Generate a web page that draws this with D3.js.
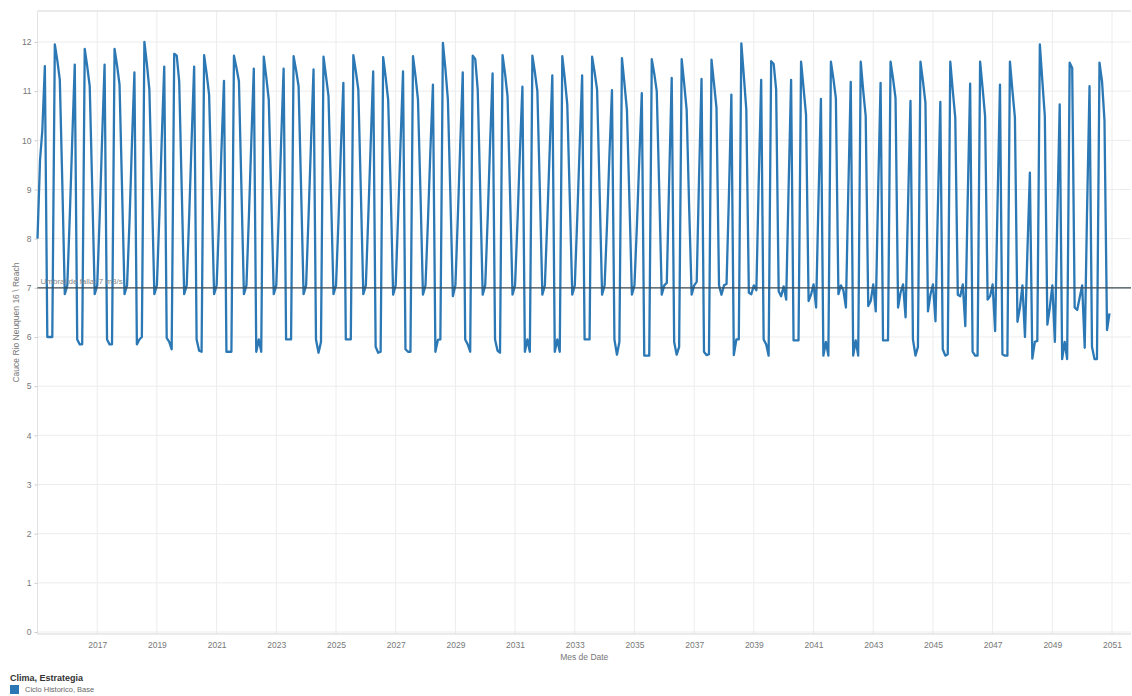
<!DOCTYPE html>
<html>
<head>
<meta charset="utf-8">
<script src="https://cdn.jsdelivr.net/npm/d3@7"></script>
<style>
  body { margin: 0; background: #fff; }
  svg { font-family: "Liberation Sans", Arial, sans-serif; }
</style>
</head>
<body>
<svg id="chart" width="1132" height="696"></svg>
<script>
// monthly flow, one row per year (Jan..Dec)
const years = [2015, 2016, 2017, 2018, 2019, 2020, 2021, 2022, 2023, 2024, 2025, 2026,
  2027, 2028, 2029, 2030, 2031, 2032, 2033, 2034, 2035, 2036, 2037, 2038,
  2039, 2040, 2041, 2042, 2043, 2044, 2045, 2046, 2047, 2048, 2049, 2050];

const flow = [
  [8.0, 9.6, 10.2, 11.51, 6.0, 6.0, 6.0, 11.95, 11.62, 11.23, 9.1, 6.87], // 2015
  [7.05, 8.5, 10.0, 11.54, 5.95, 5.85, 5.85, 11.86, 11.5, 11.1, 9.0, 6.87],
  [7.05, 8.5, 10.0, 11.54, 5.95, 5.85, 5.85, 11.86, 11.52, 11.13, 9.0, 6.87],
  [7.05, 8.4, 9.9, 11.38, 5.85, 5.95, 6.0, 12.0, 11.55, 11.03, 8.95, 6.87],
  [7.05, 8.5, 10.0, 11.5, 5.98, 5.9, 5.75, 11.76, 11.72, 11.2, 9.0, 6.87],
  [7.05, 8.5, 10.0, 11.5, 5.95, 5.72, 5.7, 11.73, 11.35, 10.93, 8.9, 6.87], // 2020
  [7.05, 8.4, 9.8, 11.21, 5.7, 5.7, 5.7, 11.72, 11.47, 11.2, 9.0, 6.87],
  [7.05, 8.5, 9.95, 11.46, 5.7, 5.95, 5.7, 11.7, 11.28, 10.83, 8.85, 6.87],
  [7.05, 8.5, 9.95, 11.46, 5.95, 5.95, 5.95, 11.71, 11.42, 11.1, 9.0, 6.87],
  [7.05, 8.5, 9.95, 11.44, 5.95, 5.68, 5.9, 11.7, 11.3, 10.9, 8.9, 6.87],
  [7.05, 8.4, 9.8, 11.17, 5.95, 5.95, 5.95, 11.73, 11.4, 11.03, 8.95, 6.87], // 2025
  [7.05, 8.5, 9.9, 11.4, 5.8, 5.68, 5.7, 11.69, 11.28, 10.83, 9.0, 6.86],
  [7.05, 8.5, 9.9, 11.4, 5.75, 5.7, 5.7, 11.71, 11.3, 10.83, 8.9, 6.86],
  [7.05, 8.4, 9.8, 11.13, 5.7, 5.94, 5.95, 11.98, 11.45, 10.83, 8.85, 6.83],
  [7.05, 8.5, 9.9, 11.38, 5.95, 5.85, 5.7, 11.72, 11.65, 11.03, 8.95, 6.86],
  [7.05, 8.45, 9.9, 11.36, 5.95, 5.72, 5.68, 11.73, 11.35, 10.9, 8.9, 6.86], // 2030
  [7.05, 8.4, 9.75, 11.09, 5.7, 5.95, 5.7, 11.72, 11.38, 11.0, 8.95, 6.86],
  [7.05, 8.45, 9.85, 11.32, 5.7, 5.95, 5.7, 11.71, 11.25, 10.73, 8.8, 6.86],
  [7.05, 8.45, 9.85, 11.32, 5.95, 5.95, 5.95, 11.7, 11.38, 11.03, 8.95, 6.86],
  [7.05, 8.35, 9.7, 11.02, 5.95, 5.64, 5.9, 11.67, 11.15, 10.62, 8.75, 6.86],
  [7.05, 8.3, 9.6, 10.96, 5.62, 5.62, 5.62, 11.65, 11.35, 11.0, 8.95, 6.86], // 2035
  [7.05, 7.1, 9.2, 11.27, 5.9, 5.64, 5.8, 11.65, 11.15, 10.62, 8.6, 6.86],
  [7.05, 7.12, 9.2, 11.25, 5.7, 5.63, 5.65, 11.64, 11.15, 10.66, 7.05, 6.86],
  [7.05, 7.08, 8.8, 10.93, 5.63, 5.95, 5.95, 11.97, 11.3, 10.62, 6.9, 6.87],
  [7.05, 6.95, 9.1, 11.23, 5.95, 5.85, 5.62, 11.61, 11.55, 11.03, 6.93, 6.83],
  [7.03, 6.76, 9.0, 11.23, 5.93, 5.93, 5.93, 11.6, 11.05, 10.52, 6.73, 6.86], // 2040
  [7.07, 6.6, 8.7, 10.84, 5.62, 5.9, 5.62, 11.6, 11.25, 10.86, 6.87, 7.05],
  [6.95, 6.6, 8.9, 11.19, 5.62, 5.93, 5.62, 11.6, 11.0, 10.49, 6.63, 6.73],
  [7.07, 6.52, 8.85, 11.17, 5.93, 5.93, 5.93, 11.6, 11.25, 10.86, 6.6, 6.9],
  [7.07, 6.4, 8.6, 10.8, 5.95, 5.62, 5.8, 11.6, 11.2, 10.76, 6.52, 6.86],
  [7.07, 6.32, 8.55, 10.78, 5.75, 5.62, 5.65, 11.6, 11.0, 10.46, 6.86, 6.83], // 2045
  [7.07, 6.22, 8.7, 11.15, 5.7, 5.62, 5.62, 11.6, 11.05, 10.49, 6.76, 6.83],
  [7.07, 6.12, 8.6, 11.13, 5.65, 5.62, 5.62, 11.6, 11.0, 10.46, 6.31, 6.6],
  [7.05, 6.0, 7.7, 9.34, 5.56, 5.9, 5.92, 11.95, 11.2, 10.49, 6.25, 6.6],
  [7.05, 5.9, 8.3, 10.73, 5.55, 5.9, 5.55, 11.58, 11.47, 6.6, 6.55, 6.8],
  [7.05, 5.78, 8.5, 11.1, 5.8, 5.55, 5.55, 11.58, 11.2, 10.4, 6.14, 6.48], // 2050
];

const yTicks = [0, 1, 2, 3, 4, 5, 6, 7, 8, 9, 10, 11, 12];
const xTickYears = [2017, 2019, 2021, 2023, 2025, 2027, 2029, 2031, 2033, 2035,
  2037, 2039, 2041, 2043, 2045, 2047, 2049, 2051];

const threshold = 7;
const thresholdLabel = 'Umbral de falla: 7 m3/s';
const yTitle = 'Cauce Rio Neuquen 16 \\ Reach';
const xTitle = 'Mes de Date';
const legendTitle = 'Clima, Estrategia';
const seriesName = 'Ciclo Historico, Base';

const lineColor = '#2b78b4';
const gridColor = '#ececec';
const textColor = '#777';

const plot = { left: 37.5, right: 1131, top: 11, bottom: 634 };

const svg = d3.select('#chart');

const points = years.flatMap((yr, i) => flow[i].map((v, m) => ({ date: new Date(yr, m, 1), value: v })));

const x = d3.scaleTime()
  .domain([new Date(2015, 0, 1), new Date(2051, 0, 1)])
  .range([plot.left, 1112]);

const y = d3.scaleLinear()
  .domain([0, 12.63])
  .range([632, plot.top]);

// horizontal grid
svg.append('g')
  .selectAll('line')
  .data(yTicks)
  .join('line')
  .attr('x1', plot.left)
  .attr('x2', plot.right)
  .attr('y1', d => y(d))
  .attr('y2', d => y(d))
  .attr('stroke', gridColor)
  .attr('stroke-width', 1);

// vertical grid
svg.append('g')
  .selectAll('line')
  .data(xTickYears)
  .join('line')
  .attr('x1', d => x(new Date(d, 0, 1)))
  .attr('x2', d => x(new Date(d, 0, 1)))
  .attr('y1', plot.top)
  .attr('y2', plot.bottom)
  .attr('stroke', gridColor)
  .attr('stroke-width', 1);

// frame
svg.append('line')
  .attr('x1', plot.left).attr('x2', plot.right)
  .attr('y1', plot.top).attr('y2', plot.top)
  .attr('stroke', '#d6d6d6');
svg.append('line')
  .attr('x1', plot.left).attr('x2', plot.right)
  .attr('y1', plot.bottom).attr('y2', plot.bottom)
  .attr('stroke', '#d6d6d6');
svg.append('line')
  .attr('x1', plot.left).attr('x2', plot.left)
  .attr('y1', plot.top).attr('y2', plot.bottom)
  .attr('stroke', '#e2e2e2');

// y axis
const yAxis = svg.append('g')
  .attr('transform', `translate(${plot.left},0)`)
  .call(d3.axisLeft(y).tickValues(yTicks).tickSize(3).tickPadding(3));
yAxis.select('.domain').remove();
yAxis.selectAll('line').attr('stroke', '#ccc');
yAxis.selectAll('text')
  .attr('fill', textColor)
  .style('font-size', '8.5px')
  .style('font-family', '"Liberation Sans", Arial, sans-serif');

// x axis
const xAxis = svg.append('g')
  .attr('transform', `translate(0,${plot.bottom})`)
  .call(d3.axisBottom(x)
    .tickValues(xTickYears.map(d => new Date(d, 0, 1)))
    .tickFormat(d3.timeFormat('%Y'))
    .tickSize(0)
    .tickPadding(8));
xAxis.select('.domain').remove();
xAxis.selectAll('text')
  .attr('fill', textColor)
  .style('font-size', '8.5px')
  .style('font-family', '"Liberation Sans", Arial, sans-serif');

svg.append('text')
  .attr('x', (plot.left + plot.right) / 2)
  .attr('y', 660)
  .attr('text-anchor', 'middle')
  .attr('fill', textColor)
  .style('font-size', '8.5px')
  .text(xTitle);

svg.append('text')
  .attr('transform', `translate(19,${(plot.top + plot.bottom) / 2}) rotate(-90)`)
  .attr('text-anchor', 'middle')
  .attr('fill', textColor)
  .style('font-size', '8.5px')
  .text(yTitle);

// series line
const line = d3.line()
  .x(d => x(d.date))
  .y(d => y(d.value));

svg.append('path')
  .datum(points)
  .attr('fill', 'none')
  .attr('stroke', lineColor)
  .attr('stroke-width', 2.3)
  .attr('stroke-linejoin', 'round')
  .attr('d', line);

// threshold reference line
svg.append('line')
  .attr('x1', plot.left)
  .attr('x2', plot.right)
  .attr('y1', y(threshold))
  .attr('y2', y(threshold))
  .attr('stroke', '#3a4a55')
  .attr('stroke-width', 1.2);

svg.append('text')
  .attr('x', plot.left + 3)
  .attr('y', y(threshold) - 4)
  .attr('fill', '#888')
  .style('font-size', '8px')
  .text(thresholdLabel);

// legend
svg.append('text')
  .attr('x', 10)
  .attr('y', 681)
  .attr('fill', '#333')
  .style('font-size', '9px')
  .style('font-weight', 'bold')
  .text(legendTitle);

svg.append('rect')
  .attr('x', 10)
  .attr('y', 685)
  .attr('width', 9)
  .attr('height', 9)
  .attr('fill', lineColor);

svg.append('text')
  .attr('x', 25)
  .attr('y', 692)
  .attr('fill', '#666')
  .style('font-size', '7.5px')
  .text(seriesName);
</script>
</body>
</html>
